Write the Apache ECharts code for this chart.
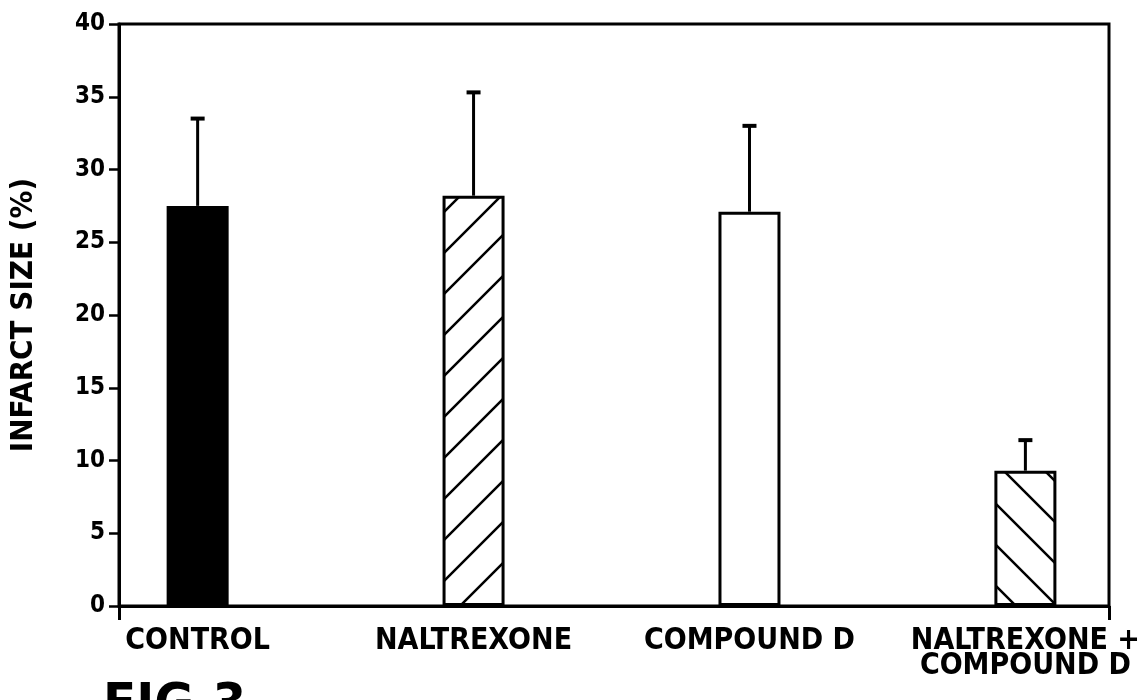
<!DOCTYPE html>
<html>
<head>
<meta charset="utf-8">
<script src="https://cdn.jsdelivr.net/npm/echarts@6/dist/echarts.min.js"></script>
<style>
  html, body { margin: 0; padding: 0; background: #fff; }
  #chart { width: 1148px; height: 700px; }
</style>
</head>
<body>
<div id="chart"></div>
<script>
// data
const categories = ["CONTROL", "NALTREXONE", "COMPOUND D", "NALTREXONE +\nCOMPOUND D"];
const infarctMean = [27.5, 28.2, 27.1, 9.3];
const errorUpper = [33.5, 35.3, 33.0, 11.4];
const yTicks = [0, 5, 10, 15, 20, 25, 30, 35, 40];

const FONT = "'DejaVu Sans Condensed', 'Liberation Sans Narrow', 'DejaVu Sans', sans-serif";

// hatch tiles
function hatch(dir) {
  const t = 41;
  const c = document.createElement("canvas");
  c.width = t;
  c.height = t;
  const ctx = c.getContext("2d");
  ctx.fillStyle = "#fff";
  ctx.fillRect(0, 0, t, t);
  ctx.strokeStyle = "#000";
  ctx.lineWidth = 2.5;
  ctx.beginPath();
  if (dir === "/") {
    ctx.moveTo(-t, t); ctx.lineTo(t, -t);
    ctx.moveTo(0, t); ctx.lineTo(t, 0);
    ctx.moveTo(0, 2 * t); ctx.lineTo(2 * t, 0);
  } else {
    ctx.moveTo(-t, 0); ctx.lineTo(t, 2 * t);
    ctx.moveTo(0, 0); ctx.lineTo(t, t);
    ctx.moveTo(0, -t); ctx.lineTo(2 * t, t);
  }
  ctx.stroke();
  return { image: c, repeat: "repeat" };
}

const barStyles = [
  { color: "#000", borderColor: "#000", borderWidth: 3 },
  { color: hatch("/"), borderColor: "#000", borderWidth: 3 },
  { color: "#fff", borderColor: "#000", borderWidth: 3 },
  { color: hatch("\\"), borderColor: "#000", borderWidth: 3 }
];

const positions = categories.map((c, i) => i + 1);
const xMin = 0.715;
const xMax = 4.303;

const chart = echarts.init(document.getElementById("chart"));

const option = {
  backgroundColor: "#fff",
  animation: false,
  grid: {
    left: 115,
    right: 39,
    top: 24,
    bottom: 94,
    show: true,
    borderColor: "#000",
    borderWidth: 3,
    backgroundColor: "transparent"
  },
  xAxis: {
    type: "value",
    min: xMin,
    max: xMax,
    splitLine: { show: false },
    axisLine: { show: true, onZero: false, lineStyle: { color: "#000", width: 3 } },
    axisTick: {
      show: true,
      customValues: [xMin, xMax],
      length: 14,
      lineStyle: { color: "#000", width: 3 }
    },
    axisLabel: {
      customValues: positions,
      formatter: v => categories[Math.round(v) - 1],
      color: "#000",
      fontFamily: FONT,
      fontWeight: "bold",
      fontSize: 30,
      lineHeight: 25,
      margin: 23,
      verticalAlign: "top",
      showMinLabel: true,
      showMaxLabel: true
    }
  },
  yAxis: {
    type: "value",
    min: 0,
    max: 40,
    interval: 5,
    name: "INFARCT SIZE (%)",
    nameLocation: "middle",
    nameGap: 80,
    nameTextStyle: {
      color: "#000",
      fontFamily: FONT,
      fontWeight: "bold",
      fontSize: 31
    },
    splitLine: { show: false },
    axisLine: { show: true, lineStyle: { color: "#000", width: 3 } },
    axisTick: { show: true, length: 10, lineStyle: { color: "#000", width: 2.5 } },
    axisLabel: {
      color: "#000",
      fontFamily: FONT,
      fontWeight: "bold",
      fontSize: 24,
      margin: 14,
      formatter: v => (yTicks.includes(v) ? String(v) : "")
    }
  },
  series: [
    {
      type: "bar",
      barWidth: 62,
      data: infarctMean.map((v, i) => ({ value: [positions[i], v], itemStyle: barStyles[i] })),
      z: 3
    },
    {
      type: "custom",
      z: 4,
      data: infarctMean.map((v, i) => [positions[i], v, errorUpper[i]]),
      renderItem: function (params, api) {
        const lo = api.coord([api.value(0), api.value(1)]);
        const hi = api.coord([api.value(0), api.value(2)]);
        const cap = 7;
        return {
          type: "group",
          children: [
            {
              type: "line",
              shape: { x1: lo[0], y1: lo[1], x2: hi[0], y2: hi[1] },
              style: { stroke: "#000", lineWidth: 3 }
            },
            {
              type: "line",
              shape: { x1: hi[0] - cap, y1: hi[1], x2: hi[0] + cap, y2: hi[1] },
              style: { stroke: "#000", lineWidth: 4 }
            }
          ]
        };
      }
    }
  ],
  graphic: [
    {
      type: "text",
      left: 103,
      top: 680,
      style: {
        text: "FIG.3",
        fill: "#000",
        font: "bold 54px " + FONT
      }
    }
  ]
};

chart.setOption(option);
</script>
</body>
</html>
